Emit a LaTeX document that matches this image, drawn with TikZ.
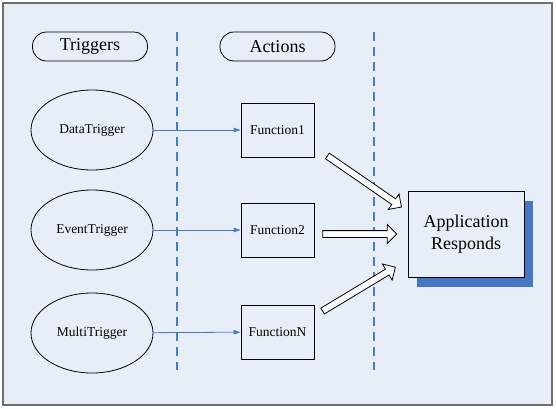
\documentclass[tikz,border=0pt]{standalone}
\usepackage{fontspec}
\setmainfont{Liberation Serif}
\newfontfamily\labelfont{Liberation Serif}
\usetikzlibrary{shapes.geometric,shapes.arrows,arrows.meta,shadows}
\definecolor{bg}{HTML}{E8EEF8}
\definecolor{lineblue}{HTML}{4A7CC8}
\definecolor{shadowblue}{HTML}{4776C2}
\definecolor{framegray}{HTML}{6E6E6E}
\tikzset{
  hdr/.style={draw, line width=0.8pt, rounded corners=14pt, minimum width=115pt, minimum height=29pt, inner sep=0pt, font=\labelfont\fontsize{18}{20}\selectfont},
  trig/.style={draw, line width=0.8pt, ellipse, minimum width=122pt, minimum height=80pt, inner sep=0pt, font=\labelfont\fontsize{13.5}{16}\selectfont},
  func/.style={draw, line width=0.8pt, minimum width=73pt, minimum height=54pt, inner sep=0pt, font=\labelfont\fontsize{13.5}{16}\selectfont},
  appbox/.style={draw, line width=0.8pt, fill=bg, minimum width=116pt, minimum height=86pt, inner sep=0pt, align=center, font=\labelfont\fontsize{18}{21.7}\selectfont,
     drop shadow={shadow xshift=9pt, shadow yshift=-9.5pt, fill=shadowblue, opacity=1}},
  divider/.style={lineblue, line width=1.8pt, dash pattern=on 9pt off 6pt},
  conn/.style={lineblue, line width=0.8pt, -{Triangle[length=7pt,width=4.5pt]}},
  barrow/.style={draw, line width=0.8pt, fill=white, single arrow, single arrow head extend=6pt, single arrow tip angle=90, inner xsep=0pt, inner ysep=3pt, minimum width=18pt}
}
\begin{document}
\begin{tikzpicture}[x=1pt,y=-1pt]
\useasboundingbox (0,0) rectangle (556,408);
\draw[framegray, line width=1.5pt, fill=bg] (3,3) rectangle (552,405);

\coordinate (d1top) at (177,32);
\coordinate (d1bot) at (177,370);
\coordinate (d2top) at (374,32);
\coordinate (d2bot) at (374,370);
\draw[divider] (d1top) -- (d1bot);
\draw[divider] (d2top) -- (d2bot);

\node[hdr] (triggers) at (90,46.5) {Triggers};
\node[hdr] (actions) at (277.5,46.5) {Actions};

\node[trig] (dt) at (92,130) {DataTrigger};
\node[trig] (et) at (92,230) {EventTrigger};
\node[trig] (mt) at (92,333) {MultiTrigger};

\node[func] (f1) at (277.5,130) {Function1};
\node[func] (f2) at (277.5,230) {Function2};
\node[func] (fn) at (277.5,332) {FunctionN};

\node[appbox] (app) at (466,234) {Application\\Responds};

\draw[conn] (dt) -- (f1);
\draw[conn] (et) -- (f2);
\draw[conn] (mt) -- (fn);

\node[barrow, minimum height=90pt, rotate=-34.6] (a1) at (363,180.5) {};
\node[barrow, minimum height=74pt] (a2) at (358,234) {};
\node[barrow, minimum height=85pt, rotate=31.1] (a3) at (357.5,290) {};
\end{tikzpicture}
\end{document}
